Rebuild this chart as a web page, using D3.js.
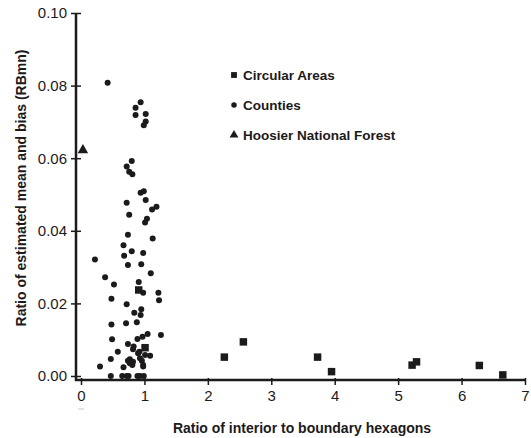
<!DOCTYPE html>
<html>
<head>
<meta charset="utf-8">
<script src="https://cdn.jsdelivr.net/npm/d3@7"></script>
<style>
  body { margin: 0; background: #fff; }
  svg { display: block; font-family: "Liberation Sans", Arial, sans-serif; }
</style>
</head>
<body>
<svg width="531" height="438"></svg>
<script>
// данные: [отношение внутр./гран. гексагонов, RBmn]
const counties = [
  [0.42, 0.0808], [0.94, 0.0754], [0.86, 0.0739], [0.86, 0.0719], [1.02, 0.0722],
  [1.02, 0.0701], [0.99, 0.0691], [0.80, 0.0592], [0.72, 0.0577], [0.76, 0.0563],
  [0.81, 0.0556], [0.94, 0.0505], [0.99, 0.0509], [0.72, 0.0477], [1.02, 0.0485],
  [0.76, 0.0444], [1.12, 0.0459], [1.19, 0.0466], [1.04, 0.0433], [1.01, 0.0423],
  [0.74, 0.0389], [1.13, 0.0379], [0.67, 0.0360], [0.80, 0.0344], [0.68, 0.0331],
  [0.98, 0.0339], [0.22, 0.0321], [0.74, 0.0306], [0.95, 0.0308], [0.38, 0.0272],
  [1.10, 0.0283], [0.52, 0.0252], [0.91, 0.0259], [0.98, 0.0229], [1.22, 0.0229],
  [1.23, 0.0209], [0.48, 0.0213], [0.72, 0.0198], [0.95, 0.0184], [0.84, 0.0174],
  [0.94, 0.0168], [0.48, 0.0142], [0.71, 0.0145], [0.88, 0.0148], [0.49, 0.0101],
  [0.89, 0.0102], [0.97, 0.0108], [1.05, 0.0116], [1.26, 0.0113], [0.74, 0.0088],
  [0.83, 0.0081], [0.58, 0.0067], [0.92, 0.0067], [1.09, 0.0056], [0.47, 0.0047],
  [0.74, 0.0042], [0.96, 0.0042], [0.67, 0.0024], [0.30, 0.0026], [0.81, 0.0030],
  [0.98, 0.0026], [0.82, 0.0074], [0.90, 0.0063], [1.01, 0.0058], [0.77, 0.0046],
  [0.82, 0.0039], [0.93, 0.0049], [0.77, 0.0035], [0.98, 0.0030],
  [0.47, 0], [0.65, 0], [0.72, 0], [0.75, 0], [0.89, 0], [0.93, 0], [0.99, 0]
];

const circularAreas = [
  [0.91, 0.0237], [1.01, 0.0078], [2.26, 0.0052], [2.56, 0.0094], [3.73, 0.0052],
  [3.95, 0.0012], [5.22, 0.0030], [5.29, 0.0039], [6.28, 0.0029], [6.65, 0.0003]
];

const hoosierForest = [[0.03, 0.0625]];

const xTicks = [0, 1, 2, 3, 4, 5, 6, 7];
const yTicks = [0, 0.02, 0.04, 0.06, 0.08, 0.10];

const legendItems = [
  {label: "Circular Areas", symbol: d3.symbolSquare},
  {label: "Counties", symbol: d3.symbolCircle},
  {label: "Hoosier National Forest", symbol: d3.symbolTriangle}
];

const xTitle = "Ratio of interior to boundary hexagons";
const yTitle = "Ratio of estimated mean and bias (RBmn)";

const ink = "#1c1a1b";
const svg = d3.select("svg");

const x = d3.scaleLinear().domain([0, 7]).range([81, 525]);
const y = d3.scaleLinear().domain([0, 0.10]).range([376, 13]);

const axisX0 = 76;   // вертикальная ось чуть левее нуля
const axisY0 = 380;  // горизонтальная ось чуть ниже нуля

// ось Y
const gy = svg.append("g")
  .attr("transform", `translate(${axisX0},0)`)
  .call(d3.axisLeft(y).tickValues(yTicks).tickFormat(d3.format(".2f")).tickSize(5).tickPadding(4));
gy.select(".domain").remove();
gy.selectAll(".tick line").attr("x1", 5).attr("stroke", ink).attr("stroke-width", 1.5);
gy.selectAll(".tick text").attr("fill", ink).style("font-size", "15px");

// ось X
const gx = svg.append("g")
  .attr("transform", `translate(0,${axisY0})`)
  .call(d3.axisBottom(x).tickValues(xTicks).tickFormat(d3.format("d")).tickSize(5).tickPadding(5));
gx.select(".domain").remove();
gx.selectAll(".tick line").attr("y1", -2).attr("stroke", ink).attr("stroke-width", 1.5);
gx.selectAll(".tick text").attr("fill", ink).style("font-size", "15px");

// линии осей
svg.append("line")
  .attr("x1", axisX0).attr("x2", axisX0)
  .attr("y1", y(0.10)).attr("y2", axisY0 + 1)
  .attr("stroke", ink).attr("stroke-width", 2.5);
svg.append("line")
  .attr("x1", axisX0 - 1).attr("x2", x(7))
  .attr("y1", axisY0).attr("y2", axisY0)
  .attr("stroke", ink).attr("stroke-width", 2.5);

// маленький серый штрих под нулём
svg.append("line")
  .attr("x1", x(0) - 3).attr("x2", x(0) + 3)
  .attr("y1", axisY0 + 29).attr("y2", axisY0 + 29)
  .attr("stroke", "#c8c8c8").attr("stroke-width", 1);

// точки
svg.selectAll(".county")
  .data(counties)
  .enter()
  .append("circle")
  .attr("class", "county")
  .attr("cx", d => x(d[0]))
  .attr("cy", d => y(d[1]))
  .attr("r", 3)
  .attr("fill", ink);

svg.selectAll(".circ")
  .data(circularAreas)
  .enter()
  .append("path")
  .attr("class", "circ")
  .attr("d", d3.symbol(d3.symbolSquare, 56))
  .attr("transform", d => `translate(${x(d[0])},${y(d[1])})`)
  .attr("fill", ink);

svg.selectAll(".forest")
  .data(hoosierForest)
  .enter()
  .append("path")
  .attr("class", "forest")
  .attr("d", d3.symbol(d3.symbolTriangle, 48))
  .attr("transform", d => `translate(${x(d[0])},${y(d[1]) + 1})`)
  .attr("fill", ink);

// легенда
const legend = svg.append("g").attr("transform", "translate(234,75)");
const li = legend.selectAll("g")
  .data(legendItems)
  .enter()
  .append("g")
  .attr("transform", (d, i) => `translate(0,${i * 30})`);
li.append("path")
  .attr("d", d => d3.symbol(d.symbol, d.symbol === d3.symbolCircle ? 24 : 34)())
  .attr("fill", ink);
li.append("text")
  .attr("x", 9)
  .attr("y", 5)
  .text(d => d.label)
  .attr("fill", ink)
  .style("font-size", "13.5px")
  .style("font-weight", "bold");

// подписи осей
svg.append("text")
  .attr("x", 302)
  .attr("y", 433)
  .attr("text-anchor", "middle")
  .attr("fill", ink)
  .style("font-size", "14px")
  .style("font-weight", "bold")
  .text(xTitle);

svg.append("text")
  .attr("transform", "translate(26,188) rotate(-90)")
  .attr("text-anchor", "middle")
  .attr("fill", ink)
  .style("font-size", "14px")
  .style("font-weight", "bold")
  .text(yTitle);
</script>
</body>
</html>
